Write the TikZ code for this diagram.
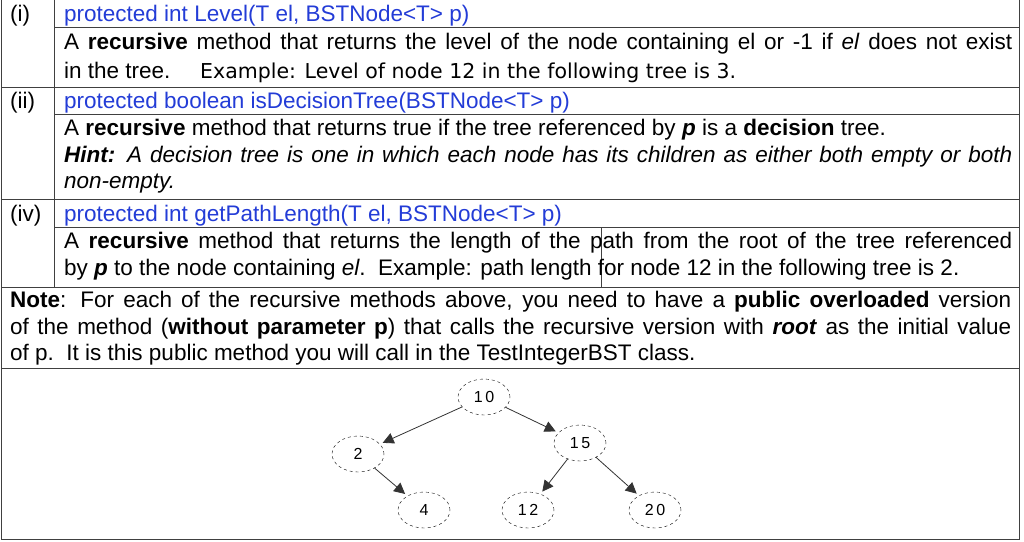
\documentclass[tikz,border=0pt]{standalone}
\usepackage{fontspec}
\setmainfont{Liberation Sans}
\newfontfamily\exfont{DejaVu Sans}
\usetikzlibrary{arrows.meta,shapes.geometric}
\definecolor{sigblue}{RGB}{35,60,215}
\begin{document}
\begin{tikzpicture}[x=1pt,y=-1pt,
  grid/.style={line width=1pt,black!75},
  ln/.style={anchor=base west,inner sep=0pt,font=\fontsize{22.5}{26}\selectfont},
  sig/.style={ln,text=sigblue},
  tn/.style={draw,dashed,ellipse,minimum width=52pt,minimum height=36pt,inner sep=0pt,font=\fontsize{16}{18}\selectfont},
  ar/.style={-{Triangle[length=11pt,width=11pt]},line width=0.8pt,black!80,shorten >=3pt}]
\useasboundingbox (0,0) rectangle (1024,541);
\fill[white] (0,0) rectangle (1024,541);
% grid
\draw[grid] (1,0) -- (1,539) -- (1019,539) -- (1019,0);
\draw[grid] (54,0) -- (54,287);
\draw[grid] (54,27) -- (1019,27);
\draw[grid] (1,87) -- (1019,87);
\draw[grid] (54,114) -- (1019,114);
\draw[grid] (1,199) -- (1019,199);
\draw[grid] (54,227) -- (1019,227);
\draw[grid] (1,287) -- (1019,287);
\draw[grid] (1,368) -- (1019,368);
\draw[grid] (601,227) -- (601,287);
% labels
\node[ln] (l1) at (10,21) {(i)};
\node[ln] (l2) at (10,108) {(ii)};
\node[ln] (l3) at (10,221) {(iv)};
% (i)
\node[sig] (s1) at (64,21) {protected int Level(T el, BSTNode<T> p)};
\node[ln] (a1) at (64,49) {\makebox[948pt][s]{A \textbf{recursive} method that returns the level of the node containing el or -1 if \textit{el} does not exist}};
\node[ln] (a2) at (64,78) {in the tree.};
\node[ln] (a3) at (200,78) {\exfont\fontsize{20.5}{24}\selectfont Example: Level of node 12 in the following tree is 3.};
% (ii)
\node[sig] (s2) at (64,108) {protected boolean isDecisionTree(BSTNode<T> p)};
\node[ln] (b1) at (64,135) {A \textbf{recursive} method that returns true if the tree referenced by \textbf{\textit{p}} is a \textbf{decision} tree.};
\node[ln] (b2) at (64,162) {\makebox[948pt][s]{\textit{\textbf{Hint:} A decision tree is one in which each node has its children as either both empty or both}}};
\node[ln] (b3) at (64,188) {\textit{non-empty.}};
% (iv)
\node[sig] (s3) at (64,221) {protected int getPathLength(T el, BSTNode<T> p)};
\node[ln] (c1) at (64,248) {\makebox[948pt][s]{A \textbf{recursive} method that returns the length of the path from the root of the tree referenced}};
\node[ln] (c2) at (64,275) {by \textbf{\textit{p}} to the node containing \textit{el}.\ \ Example: path length for node 12 in the following tree is 2.};
% note
\node[ln] (n1) at (10,307) {\makebox[1001pt][s]{\textbf{Note}: For each of the recursive methods above, you need to have a \textbf{public overloaded} version}};
\node[ln] (n2) at (10,334) {\makebox[1001pt][s]{of the method (\textbf{without parameter p}) that calls the recursive version with \textbf{\textit{root}} as the initial value}};
\node[ln] (n3) at (10,360) {of p.\ \ It is this public method you will call in the TestIntegerBST class.};
% tree
\node[tn] (t10) at (484,397) {1\,0};
\node[tn] (t2) at (358,454) {2};
\node[tn] (t15) at (580,443) {1\,5};
\node[tn] (t4) at (424,510) {4};
\node[tn] (t12) at (528,510) {1\,2};
\node[tn] (t20) at (655,510) {2\,0};
\draw[ar] (t10) -- (t2);
\draw[ar] (t10) -- (t15);
\draw[ar] (t2) -- (t4);
\draw[ar] (t15) -- (t12);
\draw[ar] (t15) -- (t20);
\end{tikzpicture}
\end{document}
